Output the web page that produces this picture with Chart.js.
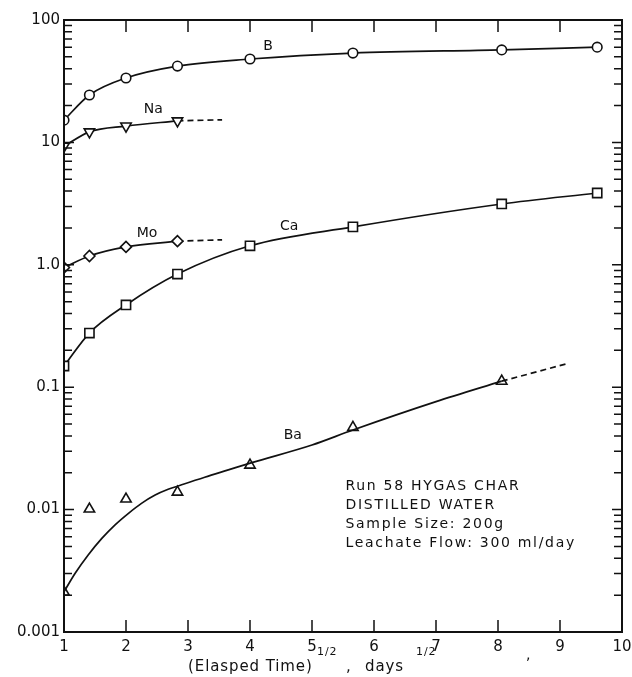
<!DOCTYPE html>
<html><head><meta charset="utf-8">
<script src="https://cdn.jsdelivr.net/npm/chart.js@4/dist/chart.umd.min.js"></script>
<style>html,body{margin:0;padding:0;background:#fff}#wrap{width:632px;height:677px}</style>
</head><body><div id="wrap"><canvas id="c" width="632" height="677"></canvas></div>
<script>
const xTicks = [1,2,3,4,5,6,7,8,9,10];
const yTickVals = [0.001,0.01,0.1,1,10,100];
const yTickLabels = ["0.001","0.01","0.1","1.0","10","100"];

const bX = [1,1.41,2,2.83,4,5.66,8.06,9.6];
const bY = [15.2,24.4,33.6,42,48,53.7,57,60];
const naX = [1,1.41,2,2.83];
const naY = [9.3,12.2,13.6,15];
const naDashX = [2.83,3.55];
const naDashY = [15,15.3];
const moX = [1,1.41,2,2.83];
const moY = [0.95,1.18,1.40,1.56];
const moDashX = [2.83,3.55];
const moDashY = [1.56,1.6];
const caX = [1,1.41,2,2.83,4,5.66,8.06,9.6];
const caY = [0.149,0.277,0.47,0.84,1.43,2.04,3.14,3.86];
const baX = [1,1.41,2,2.83,4,5.66,8.06];
const baY = [0.00212,0.0101,0.0122,0.0139,0.0231,0.047,0.112];
const baFitX = [1,1.18,1.39,1.61,1.82,2.04,2.25,2.47,2.68,2.84,3.27,3.65,4.03,5,5.66,7,8.06];
const baFitY = [0.00213,0.00302,0.00426,0.00582,0.00748,0.00933,0.01125,0.01315,0.01465,0.0156,0.0184,0.0211,0.0242,0.0337,0.0447,0.0762,0.112];
const baDashX = [8.06,9.1];
const baDashY = [0.112,0.155];

const seriesLabels = [
  {t:"B", x:4.29, y:61},
  {t:"Na", x:2.44, y:18.7},
  {t:"Mo", x:2.34, y:1.79},
  {t:"Ca", x:4.63, y:2.07},
  {t:"Ba", x:4.69, y:0.0407}
];
const noteLines = ["Run 58 HYGAS CHAR","DISTILLED WATER","Sample Size: 200g","Leachate Flow: 300 ml/day"];

const pts = (xs, ys) => xs.map((x,i)=>({x:x,y:ys[i]}));
const FONT = '"DejaVu Sans", sans-serif';

function lineDs(xs, ys, opts){
  return Object.assign({
    data: pts(xs,ys), borderColor:'#111', borderWidth:1.7, backgroundColor:'#fff',
    pointBorderColor:'#111', pointBackgroundColor:'#fff', pointBorderWidth:1.6,
    pointRadius:0, cubicInterpolationMode:'monotone', tension:0.4, fill:false
  }, opts||{});
}

const datasets = [
  lineDs(bX,bY,{pointStyle:'circle', pointRadius:4.8}),
  lineDs(naX,naY,{pointStyle:'triangle', pointRadius:6, pointRotation:180}),
  lineDs(naDashX,naDashY,{borderDash:[6,4], tension:0}),
  lineDs(moX,moY,{pointStyle:'rectRot', pointRadius:5.5}),
  lineDs(moDashX,moDashY,{borderDash:[6,4], tension:0}),
  lineDs(caX,caY,{pointStyle:'rect', pointRadius:6.5}),
  lineDs(baFitX,baFitY,{}),
  lineDs(baDashX,baDashY,{borderDash:[6,4], tension:0}),
  lineDs(baX,baY,{showLine:false, pointStyle:'triangle', pointRadius:6})
];

const decor = {
  id:'decor',
  afterDraw(chart){
    const ctx = chart.ctx, a = chart.chartArea, xs = chart.scales.x, ys = chart.scales.y;
    ctx.save();
    ctx.strokeStyle = '#111';
    ctx.lineWidth = 2;
    ctx.strokeRect(a.left, a.top, a.right-a.left, a.bottom-a.top);
    ctx.lineWidth = 1.5;
    ctx.beginPath();
    xTicks.forEach(v=>{
      if(v===1||v===10) return;
      const px = xs.getPixelForValue(v);
      ctx.moveTo(px,a.top); ctx.lineTo(px,a.top+12);
      ctx.moveTo(px,a.bottom); ctx.lineTo(px,a.bottom-12);
    });
    for(let d=-3; d<2; d++){
      for(let m=1; m<10; m++){
        const v = m*Math.pow(10,d);
        const py = ys.getPixelForValue(v);
        const len = m===1?10:8;
        ctx.moveTo(a.left,py); ctx.lineTo(a.left+len,py);
        ctx.moveTo(a.right,py); ctx.lineTo(a.right-len,py);
      }
    }
    ctx.stroke();
    ctx.fillStyle = '#111';
    ctx.font = '14px '+FONT;
    ctx.textAlign = 'center'; ctx.textBaseline = 'middle';
    seriesLabels.forEach(l=>{
      ctx.fillText(l.t, xs.getPixelForValue(l.x), ys.getPixelForValue(l.y));
    });
    ctx.textAlign = 'left'; ctx.textBaseline = 'middle';
    ctx.font = '14px '+FONT;
    ctx.letterSpacing = '1.7px';
    const nx = xs.getPixelForValue(5.54);
    const ny = ys.getPixelForValue(0.0155);
    noteLines.forEach((t,i)=>{ ctx.fillText(t, nx, ny + i*19); });
    // stray mark
    ctx.letterSpacing = '0px';
    ctx.font = '14px '+FONT;
    ctx.fillText(',', 526, 655);
    // x title with superscripts
    ctx.textBaseline = 'alphabetic';
    ctx.letterSpacing = '0.9px';
    const fN = '15px '+FONT, fS = '11px '+FONT;
    const base = 671;
    const parts = [["(Elasped Time)",false,188],["1/2",true,317],[",",false,346],["days",false,365],["1/2",true,416]];
    parts.forEach(p=>{
      ctx.font = p[1]?fS:fN;
      ctx.fillText(p[0], p[2], p[1]?base-16:base);
    });
    ctx.restore();
  }
};

new Chart(document.getElementById('c'), {
  type:'line',
  data:{datasets},
  options:{
    responsive:false, animation:false,
    layout:{padding:{left:0, right:10, top:20, bottom:0}},
    plugins:{legend:{display:false}, tooltip:{enabled:false}},
    scales:{
      x:{type:'linear', min:1, max:10,
        grid:{display:false, drawTicks:false}, border:{display:false},
        afterBuildTicks(s){ s.ticks = xTicks.map(v=>({value:v})); },
        afterFit(s){ s.height = 45; s.paddingRight = 0; s.paddingLeft = 0; },
        ticks:{color:'#111', padding:6, font:{family:'"DejaVu Sans", sans-serif', size:15}, maxRotation:0,
          callback:(v)=>String(v)}
      },
      y:{type:'logarithmic', min:0.001, max:100,
        grid:{display:false, drawTicks:false}, border:{display:false},
        afterBuildTicks(s){ s.ticks = yTickVals.map(v=>({value:v})); },
        afterFit(s){ s.width = 64; s.paddingTop = 0; s.paddingBottom = 0; },
        ticks:{color:'#111', padding:4, font:{family:'"DejaVu Sans", sans-serif', size:15},
          callback:(v)=>{ const i = yTickVals.findIndex(t=>Math.abs(Math.log10(t)-Math.log10(v))<1e-6); return i>=0?yTickLabels[i]:''; }}
      }
    }
  },
  plugins:[decor]
});
</script></body></html>
